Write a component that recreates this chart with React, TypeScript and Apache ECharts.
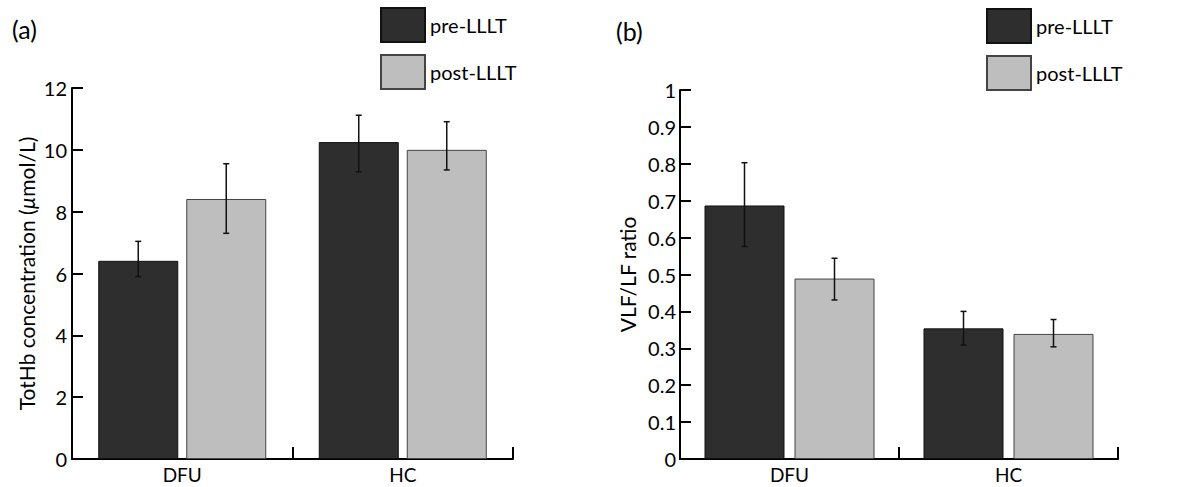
import React, { useEffect, useRef } from "react";
import * as echarts from "echarts";

const categories = ["DFU", "HC"];
const seriesNames = ["pre-LLLT", "post-LLLT"];

// Panel (a): TotHb concentration (µmol/L)
const totHbPre = [6.41, 10.25];
const totHbPreLow = [5.9, 9.29];
const totHbPreHigh = [7.04, 11.12];
const totHbPost = [8.41, 10.0];
const totHbPostLow = [7.3, 9.35];
const totHbPostHigh = [9.55, 10.91];

// Panel (b): VLF/LF ratio
const ratioPre = [0.687, 0.354];
const ratioPreLow = [0.576, 0.309];
const ratioPreHigh = [0.803, 0.4];
const ratioPost = [0.489, 0.339];
const ratioPostLow = [0.431, 0.304];
const ratioPostHigh = [0.544, 0.378];

const yTicksA = { min: 0, max: 12, interval: 2 };
const yTicksB = { min: 0, max: 1, interval: 0.1 };

const FONT = "Lato";
const PRE_COLOR = "#2e2e2e";
const POST_COLOR = "#bebebe";
const BAR_W = 80;

export default function App() {
  const ref = useRef<HTMLDivElement>(null);

  useEffect(() => {
    if (!ref.current) return;
    const chart = echarts.init(ref.current, undefined, { renderer: "svg" });

    const errorSeries = (
      idx: number,
      lows: number[],
      highs: number[],
      offset: number
    ) => ({
      type: "custom",
      xAxisIndex: idx,
      yAxisIndex: idx,
      z: 5,
      silent: true,
      data: lows.map((l, i) => [i, l, highs[i]]),
      encode: { x: 0, y: [1, 2] },
      renderItem: (params: any, api: any) => {
        const top = api.coord([api.value(0), api.value(2)]);
        const bot = api.coord([api.value(0), api.value(1)]);
        const x = top[0] + offset;
        const cap = 3;
        const style = { stroke: "#111", lineWidth: 1.5 };
        return {
          type: "group",
          children: [
            { type: "line", shape: { x1: x, y1: top[1], x2: x, y2: bot[1] }, style },
            { type: "line", shape: { x1: x - cap, y1: top[1], x2: x + cap, y2: top[1] }, style },
            { type: "line", shape: { x1: x - cap, y1: bot[1], x2: x + cap, y2: bot[1] }, style },
          ],
        };
      },
    });

    const axisCommon = {
      axisLine: { show: true, lineStyle: { color: "#000", width: 2 } },
      axisTick: { show: true, inside: true, length: 11, lineStyle: { color: "#000", width: 2 } },
      splitLine: { show: false },
    };

    const gapA = 8;
    const gapB = 10;
    const legendText = { fontFamily: FONT, fontSize: 20, color: "#000" };

    const option: any = {
      animation: false,
      textStyle: { fontFamily: FONT, color: "#000" },
      title: [
        { text: "(a)", left: 7, top: 11, textStyle: { fontFamily: FONT, fontWeight: "normal", fontSize: 25, color: "#000" } },
        { text: "(b)", left: 611, top: 13, textStyle: { fontFamily: FONT, fontWeight: "normal", fontSize: 25, color: "#000" } },
      ],
      legend: [
        {
          left: 380, top: 7, orient: "vertical", itemWidth: 44, itemHeight: 34, itemGap: 11,
          padding: 0, icon: "rect", data: seriesNames, textStyle: legendText,
        },
        {
          left: 986, top: 8, orient: "vertical", itemWidth: 44, itemHeight: 34, itemGap: 11,
          padding: 0, icon: "rect", data: seriesNames, textStyle: legendText,
        },
      ],
      grid: [
        { left: 72, top: 88, width: 441, height: 371 },
        { left: 680, top: 90, width: 438, height: 369 },
      ],
      xAxis: [
        {
          type: "category", gridIndex: 0, data: categories, ...axisCommon,
          axisTick: { ...axisCommon.axisTick, alignWithLabel: false, length: 12 },
          axisLabel: { fontFamily: FONT, fontSize: 19, color: "#000", margin: 6 },
        },
        {
          type: "category", gridIndex: 1, data: categories, ...axisCommon,
          axisTick: { ...axisCommon.axisTick, alignWithLabel: false, length: 12 },
          axisLabel: { fontFamily: FONT, fontSize: 19, color: "#000", margin: 6 },
        },
      ],
      yAxis: [
        {
          type: "value", gridIndex: 0, ...yTicksA, ...axisCommon,
          axisLabel: { fontFamily: FONT, fontSize: 20, color: "#000", margin: 5 },
          name: "TotHb concentration ({i|µ}mol/L)",
          nameLocation: "middle", nameRotate: 90, nameGap: 35,
          nameTextStyle: {
            fontFamily: FONT, fontSize: 21, color: "#000",
            rich: { i: { fontFamily: FONT, fontSize: 21, fontStyle: "italic", color: "#000" } },
          },
        },
        {
          type: "value", gridIndex: 1, ...yTicksB, ...axisCommon,
          axisLabel: { fontFamily: FONT, fontSize: 20, color: "#000", margin: 4 },
          name: "VLF/LF ratio",
          nameLocation: "middle", nameRotate: 90, nameGap: 42,
          nameTextStyle: { fontFamily: FONT, fontSize: 21, color: "#000" },
        },
      ],
      series: [
        {
          name: seriesNames[0], type: "bar", xAxisIndex: 0, yAxisIndex: 0, data: totHbPre,
          barWidth: BAR_W, barGap: (gapA / BAR_W) * 100 + "%",
          itemStyle: { color: PRE_COLOR, borderColor: "#111", borderWidth: 1 },
        },
        {
          name: seriesNames[1], type: "bar", xAxisIndex: 0, yAxisIndex: 0, data: totHbPost,
          barWidth: BAR_W, barGap: (gapA / BAR_W) * 100 + "%",
          itemStyle: { color: POST_COLOR, borderColor: "#444", borderWidth: 1 },
        },
        {
          name: seriesNames[0], type: "bar", xAxisIndex: 1, yAxisIndex: 1, data: ratioPre,
          barWidth: BAR_W, barGap: (gapB / BAR_W) * 100 + "%",
          itemStyle: { color: PRE_COLOR, borderColor: "#111", borderWidth: 1 },
        },
        {
          name: seriesNames[1], type: "bar", xAxisIndex: 1, yAxisIndex: 1, data: ratioPost,
          barWidth: BAR_W, barGap: (gapB / BAR_W) * 100 + "%",
          itemStyle: { color: POST_COLOR, borderColor: "#444", borderWidth: 1 },
        },
        errorSeries(0, totHbPreLow, totHbPreHigh, -(BAR_W + gapA) / 2),
        errorSeries(0, totHbPostLow, totHbPostHigh, (BAR_W + gapA) / 2),
        errorSeries(1, ratioPreLow, ratioPreHigh, -(BAR_W + gapB) / 2),
        errorSeries(1, ratioPostLow, ratioPostHigh, (BAR_W + gapB) / 2),
      ],
    };

    chart.setOption(option);
    return () => chart.dispose();
  }, []);

  return <div ref={ref} style={{ width: 1183, height: 487, position: "absolute", left: 0, top: 0 }} />;
}
